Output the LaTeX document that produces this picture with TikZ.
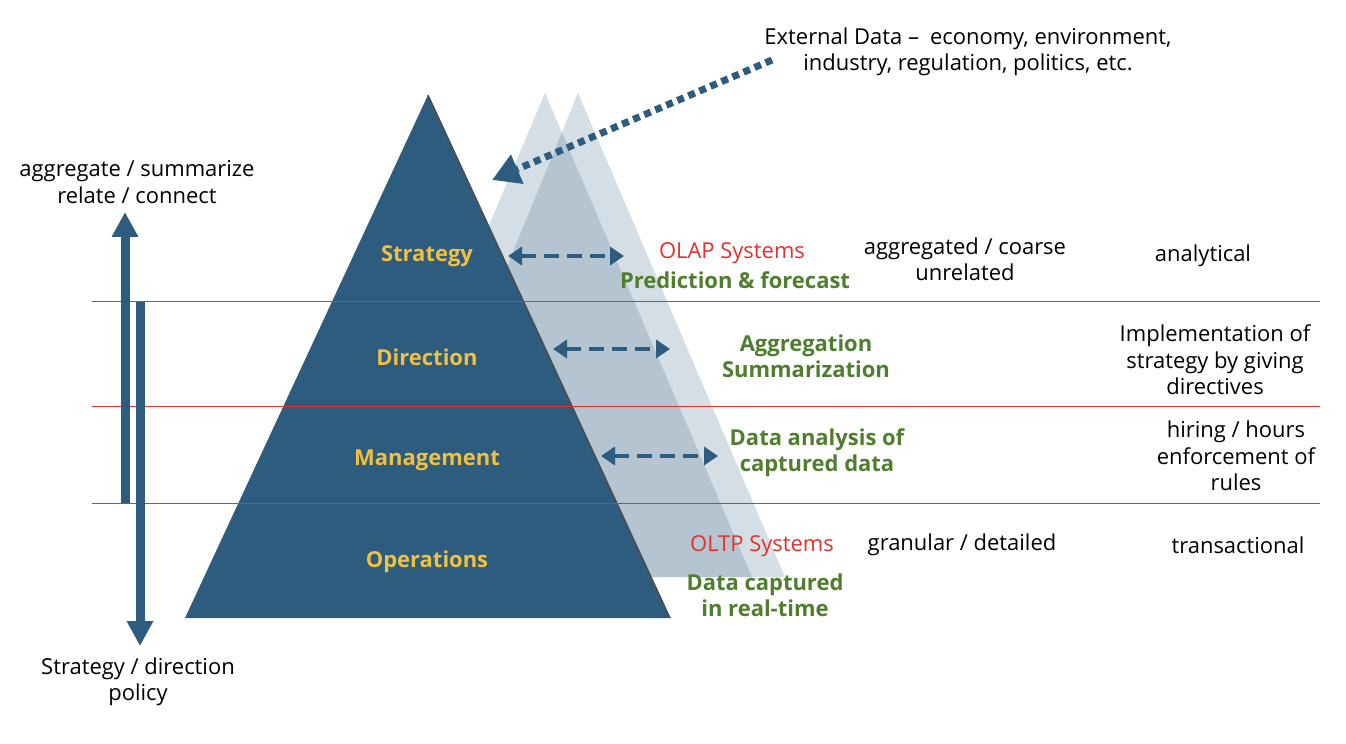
\documentclass[tikz,border=0pt]{standalone}
\usepackage{fontspec}
\setmainfont{Open Sans}
\usetikzlibrary{arrows.meta}
\definecolor{pyr}{HTML}{2E5C7E}
\definecolor{lay}{HTML}{F0C040}
\definecolor{olred}{HTML}{E8302A}
\definecolor{olgreen}{HTML}{4E7E2E}
\begin{document}
\begin{tikzpicture}[x=0.02cm,y=-0.02cm,
    txt/.style={font=\fontsize{12.5}{15}\selectfont,align=center,inner sep=0pt},
    layer/.style={txt,font=\fontsize{12.5}{15}\selectfont\bfseries,text=lay},
    sys/.style={txt,text=olred},
    proc/.style={txt,font=\fontsize{12.5}{15}\selectfont\bfseries,text=olgreen},
    dbl/.style={pyr,line width=0.08cm,dash pattern=on 0.3cm off 0.16cm,{Triangle[length=0.28cm,width=0.36cm]}-{Triangle[length=0.28cm,width=0.36cm]}},
    fat/.style={pyr,line width=0.18cm,-{Triangle[length=0.5cm,width=0.5cm]}}]
  \useasboundingbox (0,0) rectangle (1346,744);
  % shadow pyramids
  \fill[pyr,opacity=0.2] (578,93) -- (785,577) -- (380,577) -- cycle;
  \fill[pyr,opacity=0.2] (545,93) -- (752,577) -- (340,577) -- cycle;
  % main pyramid
  \fill[pyr] (428,95) -- (670,618) -- (185,618) -- cycle;
  \draw[black!70,thick] (428,95) -- (670,618);
  % layer borders
  \foreach \y in {301,406,503}
    \draw[olred,thin] (92,\y) -- (1320,\y);
  % layer names
  \node[layer] (strat) at (427,256) {Strategy};
  \node[layer] (dir) at (427,357) {Direction};
  \node[layer] (mgmt) at (427,460) {Management};
  \node[layer] (ops) at (427,562) {Operations};
  % side texts
  \node[txt] (agg) at (137,182) {aggregate / summarize\\relate / connect};
  \node[txt] (pol) at (138,682) {Strategy / direction\\policy};
  \coordinate (upS) at (125,503);
  \coordinate (upE) at (125,212);
  \coordinate (dnS) at (140,302);
  \coordinate (dnE) at (140,646);
  \draw[fat] (upS) -- (upE);
  \draw[fat] (dnS) -- (dnE);
  % external data
  \node[txt] (ext) at (968,52) {External Data –\enspace economy, environment,\\industry, regulation, politics, etc.};
  \coordinate (extS) at (772,60);
  \coordinate (extE) at (492,180);
  \draw[pyr,line width=0.14cm,dash pattern=on 0.14cm off 0.1cm,-{Triangle[length=0.55cm,width=0.6cm]}] (extS) -- (extE);
  % dashed links
  \coordinate (a1) at (508,256); \coordinate (b1) at (624,256);
  \coordinate (a2) at (553,349); \coordinate (b2) at (670,349);
  \coordinate (a3) at (601,456); \coordinate (b3) at (718,456);
  \draw[dbl] (a1) -- (b1);
  \draw[dbl] (a2) -- (b2);
  \draw[dbl] (a3) -- (b3);
  % right side
  \node[sys] (olap) at (732,253) {OLAP Systems};
  \node[proc] (pred) at (735,280) {Prediction \& forecast};
  \node[txt] (coarse) at (965,259) {aggregated / coarse\\unrelated};
  \node[txt] (anal) at (1203,256) {analytical};
  \node[proc] (aggr) at (806,356) {Aggregation\\Summarization};
  \node[txt] (impl) at (1215,360) {Implementation of\\strategy by giving\\directives};
  \node[proc] (capt) at (817,453) {Data analysis of\\captured data};
  \node[txt] (hire) at (1236,456) {hiring / hours\\enforcement of\\rules};
  \node[sys] (oltp) at (762,546) {OLTP Systems};
  \node[txt] (gran) at (962,545) {granular / detailed};
  \node[txt] (trans) at (1238,545) {transactional};
  \node[proc] (real) at (765,595) {Data captured\\in real-time};
\end{tikzpicture}
\end{document}
